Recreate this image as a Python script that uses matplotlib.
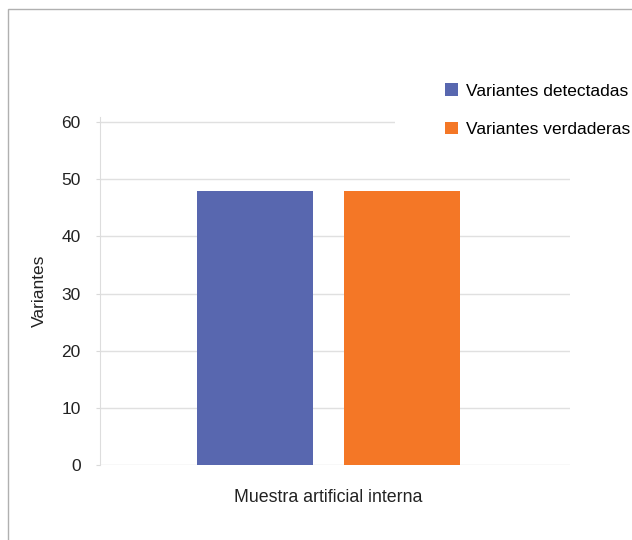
import matplotlib.pyplot as plt
from matplotlib.patches import Rectangle

plt.rcParams['font.family'] = ['Liberation Sans', 'DejaVu Sans']

# datos
categorias = ["Muestra artificial interna"]
series = ["Variantes detectadas", "Variantes verdaderas"]
valores = [[48], [48]]
colores = ["#5867af", "#f47726"]
yticks = [0, 10, 20, 30, 40, 50, 60]

fig = plt.figure(figsize=(6.32, 5.4), dpi=100)
ax = fig.add_axes([100/632, 75/540, 470/632, 348/540])

ancho = 0.247
desplaz = [-0.156, 0.156]
for i, nombre in enumerate(series):
    xs = [k + desplaz[i] for k in range(len(categorias))]
    ax.bar(xs, valores[i], width=ancho, color=colores[i], label=nombre, zorder=3)

ax.set_xlim(-0.486, 0.514)
ax.set_ylim(0, 60.9)
ax.set_yticks(yticks)
ax.set_yticklabels([str(v) for v in yticks], fontsize=12.5, color="#222222")
ax.set_xticks(range(len(categorias)))
ax.set_xticklabels(categorias, fontsize=12.8, color="#222222")
ax.tick_params(axis='x', length=0, pad=17)
ax.tick_params(axis='y', length=3, color="#d9d9d9", pad=11)
ax.set_ylabel("Variantes", fontsize=12.5, color="#222222", labelpad=10)

ax.grid(axis='y', color="#e0e0e0", linewidth=1, zorder=0)
for lado in ['top', 'right', 'bottom']:
    ax.spines[lado].set_visible(False)
ax.spines['left'].set_color("#dddddd")

# fondo blanco de la leyenda (tapa parte de la línea de 60)
fondo = Rectangle((395/632, 1 - 150/540), 240/632, 90/540,
                  transform=fig.transFigure, facecolor='white',
                  edgecolor='none', zorder=1)
fig.patches.append(fondo)

leg = fig.legend(loc='upper left', bbox_to_anchor=(442/632, 1 - 80/540),
                 frameon=False, fontsize=12.5, handlelength=0.72, handleheight=0.72,
                 handletextpad=0.45, labelspacing=1.32, borderpad=0.2,
                 borderaxespad=0)
leg.set_zorder(5)

# borde del gráfico
fig.patches.append(Rectangle((8/632, -0.05), 1.1, 1 - 9/540 + 0.05,
                             transform=fig.transFigure, fill=False,
                             edgecolor="#b0b0b0", linewidth=1, zorder=2))

fig.savefig("out.png", dpi=100)
